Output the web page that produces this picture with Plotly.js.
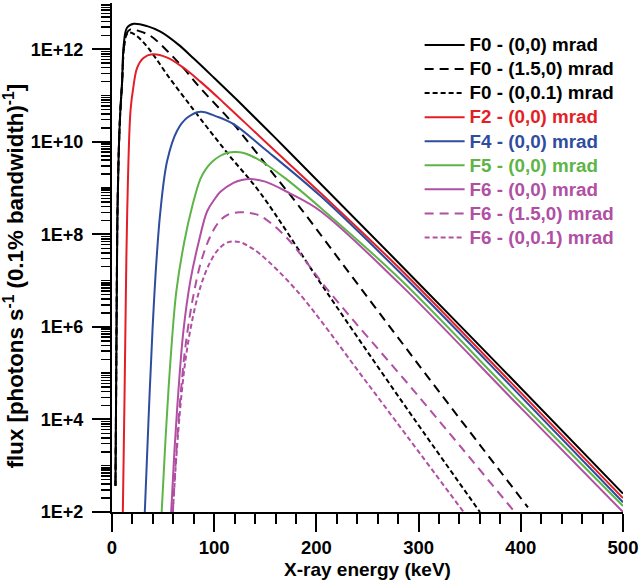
<!DOCTYPE html>
<html><head><meta charset="utf-8">
<script src="https://cdn.plot.ly/plotly-3.0.1.min.js"></script>
<style>html,body{margin:0;padding:0;background:#fff}#chart{width:640px;height:581px}</style>
</head><body><div id="chart"></div>
<script>
// X-ray energy (keV) and flux (photons s^-1 (0.1% bw)^-1)
const eF0_00 = [3.4, 4.0, 4.6, 5.2, 6.5, 8, 9.9, 11.5, 14.8, 21.3, 34.4, 47.4, 65, 80, 100, 121.7, 160, 203.8, 282, 400, 500];
const fF0_00 = [3.7e2, 3.2e4, 3.2e6, 1.6e8, 5.0e9, 4.0e10, 2.0e11, 1.26e12, 2.95e12, 3.55e12, 3.16e12, 2.4e12, 1.26e12, 6.3e11, 2.4e11, 8.3e10, 1.2e10, 1.26e9, 2.24e7, 4.8e4, 2.5e2];

const eF0_150 = [3.4, 4.0, 4.6, 5.2, 6.5, 8, 9.9, 11.5, 14, 18, 26, 37.6, 54.3, 70, 86.5, 119, 151.7, 184, 244.6, 320, 407];
const fF0_150 = [3.7e2, 3.2e4, 3.2e6, 1.6e8, 5.0e9, 4.0e10, 2.0e11, 1.0e12, 2.14e12, 2.69e12, 2.5e12, 1.95e12, 9.1e11, 3.9e11, 1.45e11, 2.4e10, 3.0e9, 3.8e8, 6.3e6, 4.0e4, 1.26e2];

const eF0_001 = [3.4, 4.0, 4.6, 5.2, 6.5, 8, 9.9, 11.5, 14, 16.4, 22, 30.8, 42, 54, 70, 86.5, 115, 145, 207, 280, 360];
const fF0_001 = [3.7e2, 3.2e4, 3.2e6, 1.6e8, 5.0e9, 4.0e10, 2.0e11, 9.5e11, 2.0e12, 2.29e12, 2.1e12, 1.41e12, 6.8e11, 2.8e11, 9.5e10, 3.16e10, 5.0e9, 7.9e8, 7.1e6, 3.2e4, 1.0e2];

const eF2 = [10.6, 12.2, 13.5, 14.9, 18.1, 21, 24.6, 30.8, 39.3, 54, 70, 86.5, 108.7, 150, 203.8, 282, 400, 500];
const fF2 = [1.0e2, 2.5e4, 4.0e6, 3.16e8, 4.7e10, 1.58e11, 3.98e11, 6.46e11, 7.76e11, 6.6e11, 3.98e11, 2.0e11, 7.2e10, 1.0e10, 7.9e8, 1.78e7, 3.8e4, 2.0e2];

const eF4 = [32.1, 35.7, 39.6, 43.5, 47.4, 54, 63.7, 73.5, 86.5, 102.8, 119, 150, 203.8, 282, 400, 500];
const fF4 = [1.0e2, 9.5e3, 8.3e5, 2.7e7, 3.24e8, 3.9e9, 1.74e10, 3.3e10, 4.47e10, 3.5e10, 2.4e10, 6.8e9, 6.8e8, 1.48e7, 3.16e4, 1.62e2];

const eF5 = [48.6, 52.3, 57.2, 63, 70.9, 78.7, 86.5, 92, 98, 106, 114.2, 122, 130.5, 145.2, 170, 203.8, 282, 400, 500];
const fF5 = [1.0e2, 3.5e3, 1.86e5, 6.0e6, 7.2e7, 4.2e8, 1.58e9, 2.6e9, 3.7e9, 5.0e9, 5.9e9, 6.0e9, 5.6e9, 3.9e9, 1.6e9, 3.8e8, 1.07e7, 2.3e4, 1.35e2];

const eF6_00 = [57.9, 61.1, 65, 69.9, 76.7, 84.6, 93.1, 100, 106.1, 118.8, 127, 135.4, 150, 174.5, 203.8, 282, 400, 500];
const fF6_00 = [1.0e2, 2.1e3, 4.2e4, 8.3e5, 1.0e7, 6.5e7, 3.16e8, 5.6e8, 8.3e8, 1.3e9, 1.5e9, 1.58e9, 1.38e9, 7.6e8, 3.2e8, 8.3e6, 1.78e4, 1.0e2];

const eF6_150 = [59.5, 63, 67, 72, 79, 87, 96, 105, 114, 125, 135, 145.2, 170, 211.9, 300, 394];
const fF6_150 = [1.0e2, 2.0e3, 3.16e4, 4.0e5, 4.0e6, 2.5e7, 8.9e7, 1.9e8, 2.7e8, 3.0e8, 2.9e8, 2.5e8, 8.9e7, 6.0e6, 3.16e4, 1.0e2];

const eF6_001 = [59.5, 63, 67, 72, 79, 87, 96, 105, 114, 125, 135, 145.2, 181, 250, 344];
const fF6_001 = [1.0e2, 1.58e3, 2.0e4, 2.0e5, 1.58e6, 7.9e6, 2.5e7, 5.0e7, 6.8e7, 6.8e7, 5.3e7, 3.7e7, 6.0e6, 6.0e4, 1.0e2];

const seriesNames = ['F0 - (0,0) mrad', 'F0 - (1.5,0) mrad', 'F0 - (0,0.1) mrad', 'F2 - (0,0) mrad',
  'F4 - (0,0) mrad', 'F5 - (0,0) mrad', 'F6 - (0,0) mrad', 'F6 - (1.5,0) mrad', 'F6 - (0,0.1) mrad'];
const yTickVals = [1e2, 1e4, 1e6, 1e8, 1e10, 1e12];
const yTickText = ['1E+2', '1E+4', '1E+6', '1E+8', '1E+10', '1E+12'];

const BLACK = '#000000', RED = '#e41e26', BLUE = '#2e4d9e', GREEN = '#5cb546', PURPLE = '#b04fa3';
const SOLID = 'solid', DASH = '9px,6px', DOT = '5px,3px';

const xs = [eF0_00, eF0_150, eF0_001, eF2, eF4, eF5, eF6_00, eF6_150, eF6_001];
const ys = [fF0_00, fF0_150, fF0_001, fF2, fF4, fF5, fF6_00, fF6_150, fF6_001];
const cols = [BLACK, BLACK, BLACK, RED, BLUE, GREEN, PURPLE, PURPLE, PURPLE];
const dashes = [SOLID, DASH, DOT, SOLID, SOLID, SOLID, SOLID, DASH, DOT];

const traces = xs.map((x, i) => ({
  x: x, y: ys[i], type: 'scatter', mode: 'lines',
  name: '<span style="color:' + cols[i] + ';font-size:18.8px">' + seriesNames[i] + '</span>',
  line: {color: cols[i], width: 2, dash: dashes[i], shape: 'spline', smoothing: 1.0},
  hoverinfo: 'skip'
}));

// minor log ticks (2..9 per decade plus odd decades)
const minorVals = [];
for (let d = 2; d <= 12; d++) {
  for (let m = 1; m <= 9; m++) {
    const v = m * Math.pow(10, d);
    if (m === 1 && d % 2 === 0) continue;
    if (v <= 1e13) minorVals.push(v);
  }
}

const FONT = 'Liberation Sans, Arial, sans-serif';
const layout = {
  width: 640, height: 581,
  margin: {l: 111.5, r: 17, t: 2.5, b: 69, pad: 0},
  paper_bgcolor: '#fff', plot_bgcolor: '#fff',
  font: {family: FONT, size: 18, color: '#000', weight: 'bold'},
  showlegend: true,
  legend: {x: 0.602, y: 0.951, xanchor: 'left', yanchor: 'top', bgcolor: 'rgba(0,0,0,0)',
    font: {family: FONT, size: 16.2, color: '#000', weight: 'bold'}, itemwidth: 40, tracegroupgap: 0},
  xaxis: {
    range: [0, 500], showgrid: false, zeroline: false, showline: true, linecolor: '#000', linewidth: 2,
    ticks: 'outside', ticklen: 18, tickwidth: 2, tickcolor: '#000', dtick: 100, tick0: 0,
    tickfont: {family: FONT, size: 18.5, color: '#000', weight: 'bold'},
    minor: {ticks: 'outside', ticklen: 10, tickwidth: 2, tickcolor: '#000', dtick: 20, showgrid: false},
    title: {text: 'X-ray energy (keV)', standoff: 5, font: {family: FONT, size: 19, color: '#000', weight: 'bold'}}
  },
  yaxis: {
    type: 'log', range: [2, 13], showgrid: false, zeroline: false, showline: true, linecolor: '#000', linewidth: 2,
    ticks: 'outside', ticklen: 18, tickwidth: 2, tickcolor: '#000',
    tickmode: 'array', tickvals: yTickVals, ticktext: yTickText, ticklabelstandoff: 5,
    tickfont: {family: FONT, size: 18, color: '#000', weight: 'bold'},
    minor: {ticks: 'outside', ticklen: 9, tickwidth: 1.5, tickcolor: '#000', tickmode: 'array', tickvals: minorVals, showgrid: false},
    title: {text: 'flux [photons s<sup>-1</sup> (0.1% bandwidth)<sup>-1</sup>]&nbsp;&nbsp;&nbsp;&nbsp;&nbsp;&nbsp;', standoff: 3,
      font: {family: FONT, size: 22.3, color: '#000', weight: 'bold'}}
  }
};

Plotly.newPlot('chart', traces, layout, {displayModeBar: false, staticPlot: true});
</script>
</body></html>
